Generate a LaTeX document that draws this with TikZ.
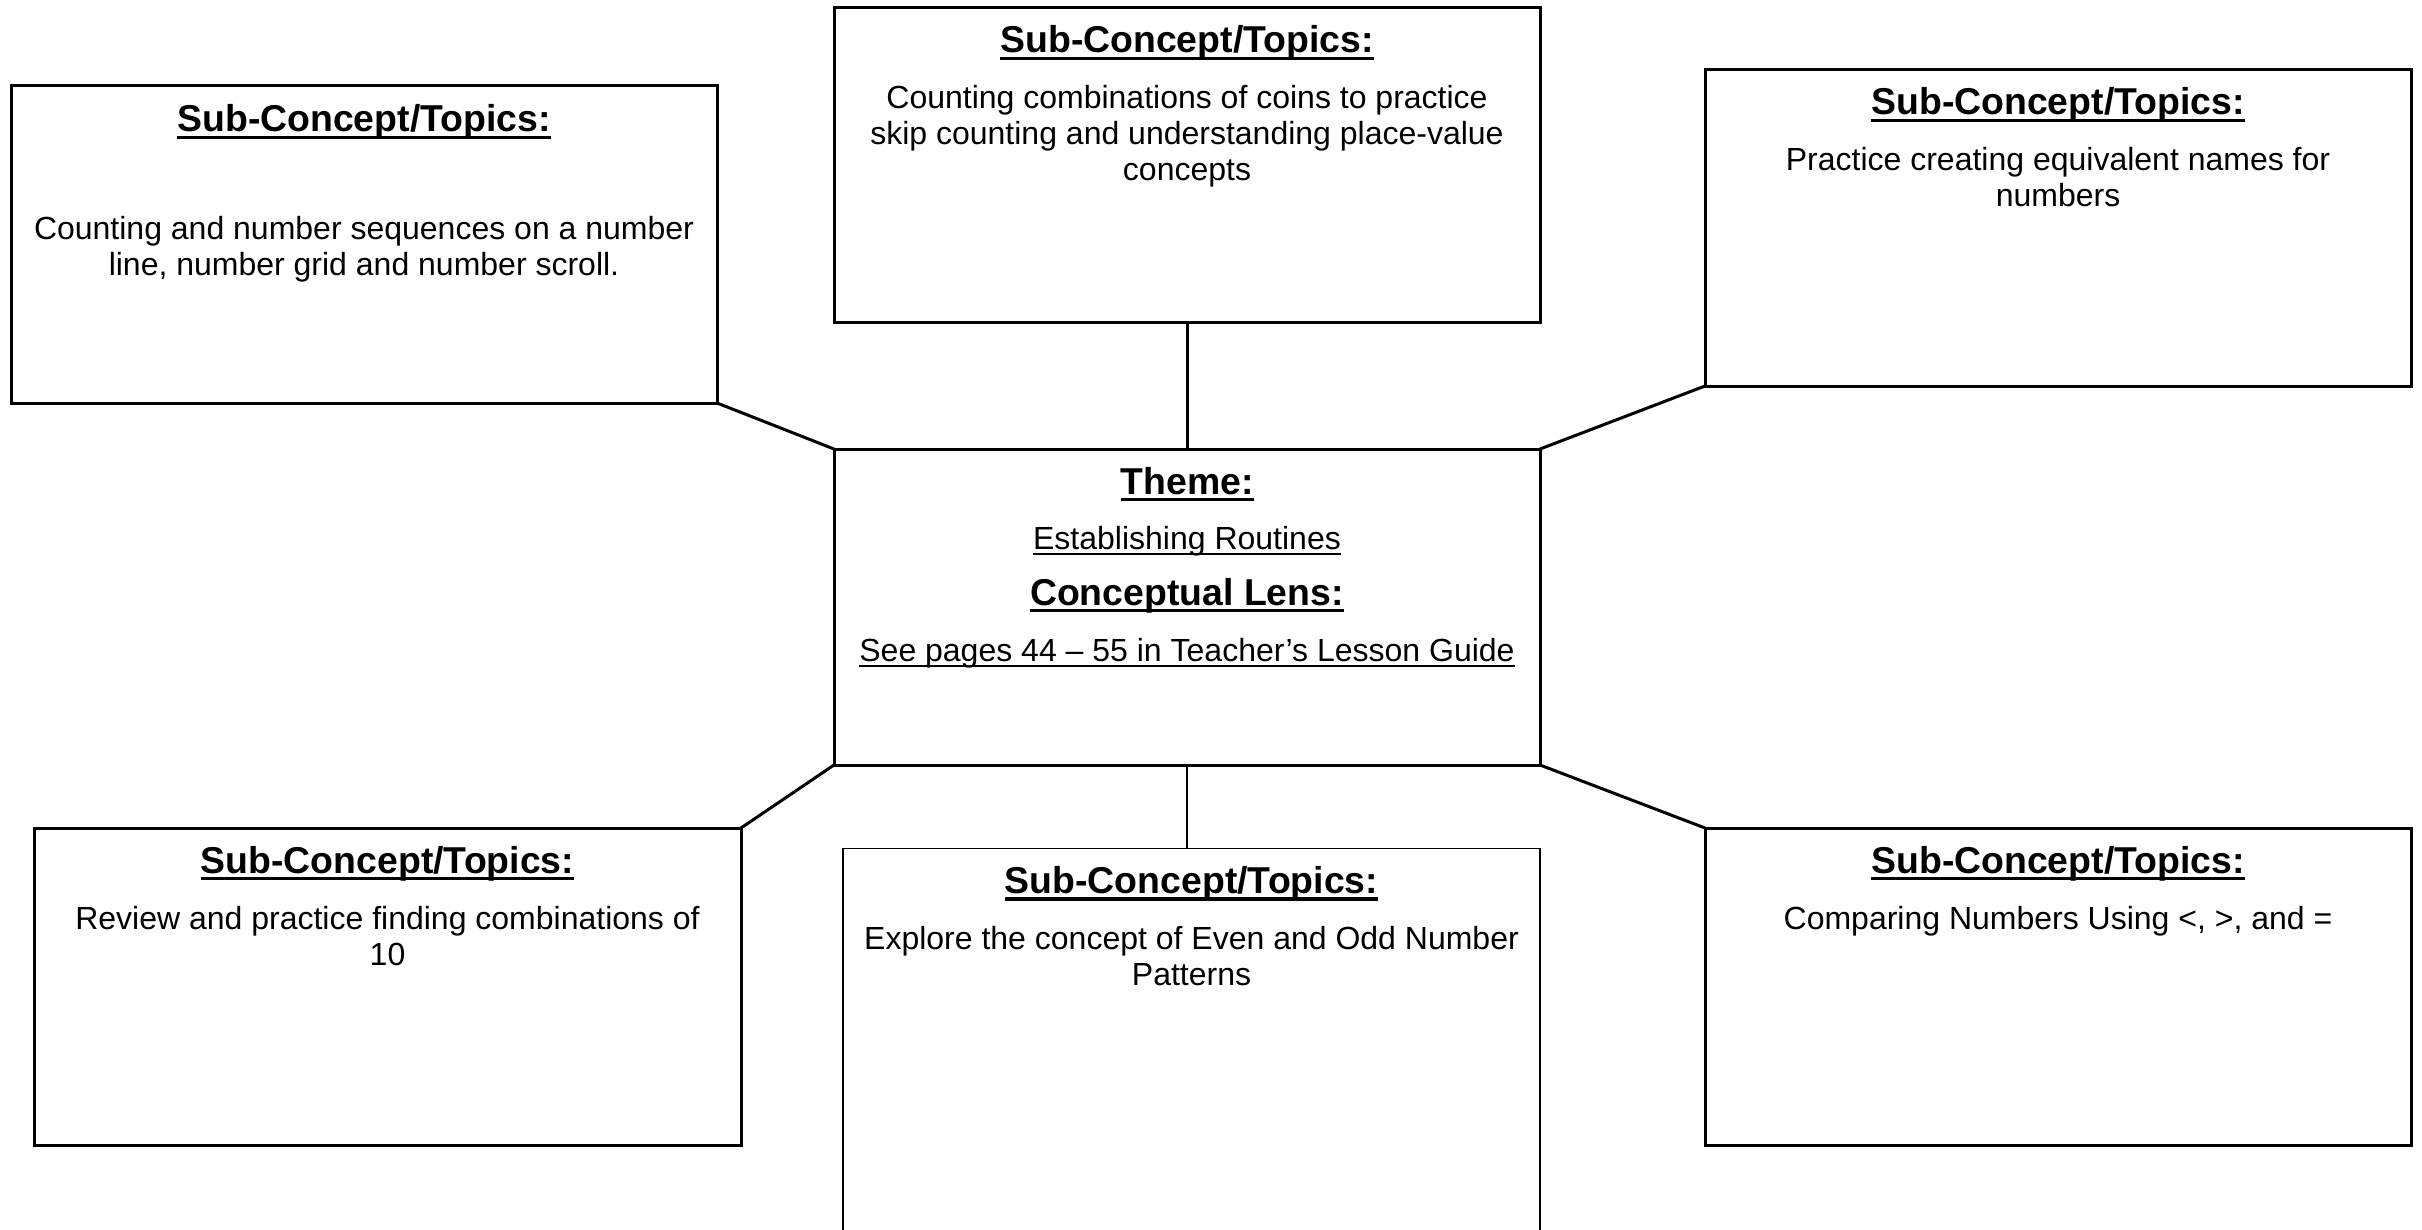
\documentclass[tikz,border=0pt]{standalone}
\usepackage{fontspec}
\setmainfont{Liberation Sans}
\newcommand\ulbold[1]{\setbox0\hbox{#1}\rlap{\rule[-0.2em]{\wd0}{0.1em}}\box0}
\newcommand\ulreg[1]{\setbox0\hbox{#1}\rlap{\rule[-0.2em]{\wd0}{0.065em}}\box0}
\begin{document}
\begin{tikzpicture}[x=1pt,y=-1pt,
  box/.style={draw=black,line width=3pt,rectangle,inner sep=0pt,outer sep=0pt,minimum width=706pt},
  thinbox/.style={draw=black,line width=1.8pt,rectangle,inner sep=0pt,outer sep=0pt},
  link/.style={draw=black,line width=3pt},
  thinlink/.style={draw=black,line width=2pt},
  head/.style={anchor=base,inner sep=0pt,font=\fontsize{37.4}{42}\selectfont\bfseries},
  body/.style={anchor=base,inner sep=0pt,align=center,font=\fontsize{32}{36.4}\selectfont}]
  \clip (0,0) rectangle (2422,1230);
  \fill[white] (0,0) rectangle (2422,1230);

  % boxes
  \node[box,minimum height=317pt] (tl) at (364,244.5) {};
  \node[box,minimum height=315pt] (tc) at (1187,165.5) {};
  \node[box,minimum height=316pt] (tr) at (2058,228) {};
  \node[box,minimum height=316pt] (c)  at (1187,607) {};
  \node[box,minimum width=707pt,minimum height=317pt] (bl) at (387.5,986.5) {};
  \node[thinbox,minimum width=697pt,minimum height=400pt] (bc) at (1191.5,1048.5) {};
  \node[box,minimum height=317pt] (br) at (2058,986.5) {};

  % connectors
  \draw[link] (tl.south east) -- (c.north west);
  \draw[link] (tc.south) -- (c.north);
  \draw[link] (tr.south west) -- (c.north east);
  \draw[link] (c.south west) -- (bl.north east);
  \draw[thinlink] (c.south) -- (c.south |- bc.north);
  \draw[link] (c.south east) -- (br.north west);

  % texts: top left
  \node[head] (tlh) at ([yshift=-46pt]tl.north) {\ulbold{Sub-Concept/Topics:}};
  \node[body] (tlb) at ([yshift=-154pt]tl.north) {Counting and number sequences on a number};
  \node[body] (tlb2) at ([yshift=-190pt]tl.north) {line, number grid and number scroll.};

  % top centre
  \node[head] (tch) at ([yshift=-45pt]tc.north) {\ulbold{Sub-Concept/Topics:}};
  \node[body] (tcb) at ([yshift=-101pt]tc.north) {Counting combinations of coins to practice};
  \node[body] (tcb2) at ([yshift=-137pt]tc.north) {skip counting and understanding place-value};
  \node[body] (tcb3) at ([yshift=-173pt]tc.north) {concepts};

  % top right
  \node[head] (trh) at ([yshift=-45pt]tr.north) {\ulbold{Sub-Concept/Topics:}};
  \node[body] (trb) at ([yshift=-101pt]tr.north) {Practice creating equivalent names for};
  \node[body] (trb2) at ([yshift=-137pt]tr.north) {numbers};

  % centre
  \node[head] (ch) at ([yshift=-45pt]c.north) {\ulbold{Theme:}};
  \node[body] (cb) at ([yshift=-100pt]c.north) {\ulreg{Establishing Routines}};
  \node[head] (ch2) at ([yshift=-156pt]c.north) {\ulbold{Conceptual Lens:}};
  \node[body] (cb2) at ([yshift=-212pt]c.north) {\ulreg{See pages 44 – 55 in Teacher’s Lesson Guide}};

  % bottom left
  \node[head] (blh) at ([yshift=-45pt]bl.north) {\ulbold{Sub-Concept/Topics:}};
  \node[body] (blb) at ([yshift=-101pt]bl.north) {Review and practice finding combinations of};
  \node[body] (blb2) at ([yshift=-137pt]bl.north) {10};

  % bottom centre
  \node[head] (bch) at ([yshift=-45pt]bc.north) {\ulbold{Sub-Concept/Topics:}};
  \node[body] (bcb) at ([yshift=-101pt]bc.north) {Explore the concept of Even and Odd Number};
  \node[body] (bcb2) at ([yshift=-137pt]bc.north) {Patterns};

  % bottom right
  \node[head] (brh) at ([yshift=-45pt]br.north) {\ulbold{Sub-Concept/Topics:}};
  \node[body] (brb) at ([yshift=-101pt]br.north) {Comparing Numbers Using <, >, and =};
\end{tikzpicture}
\end{document}
